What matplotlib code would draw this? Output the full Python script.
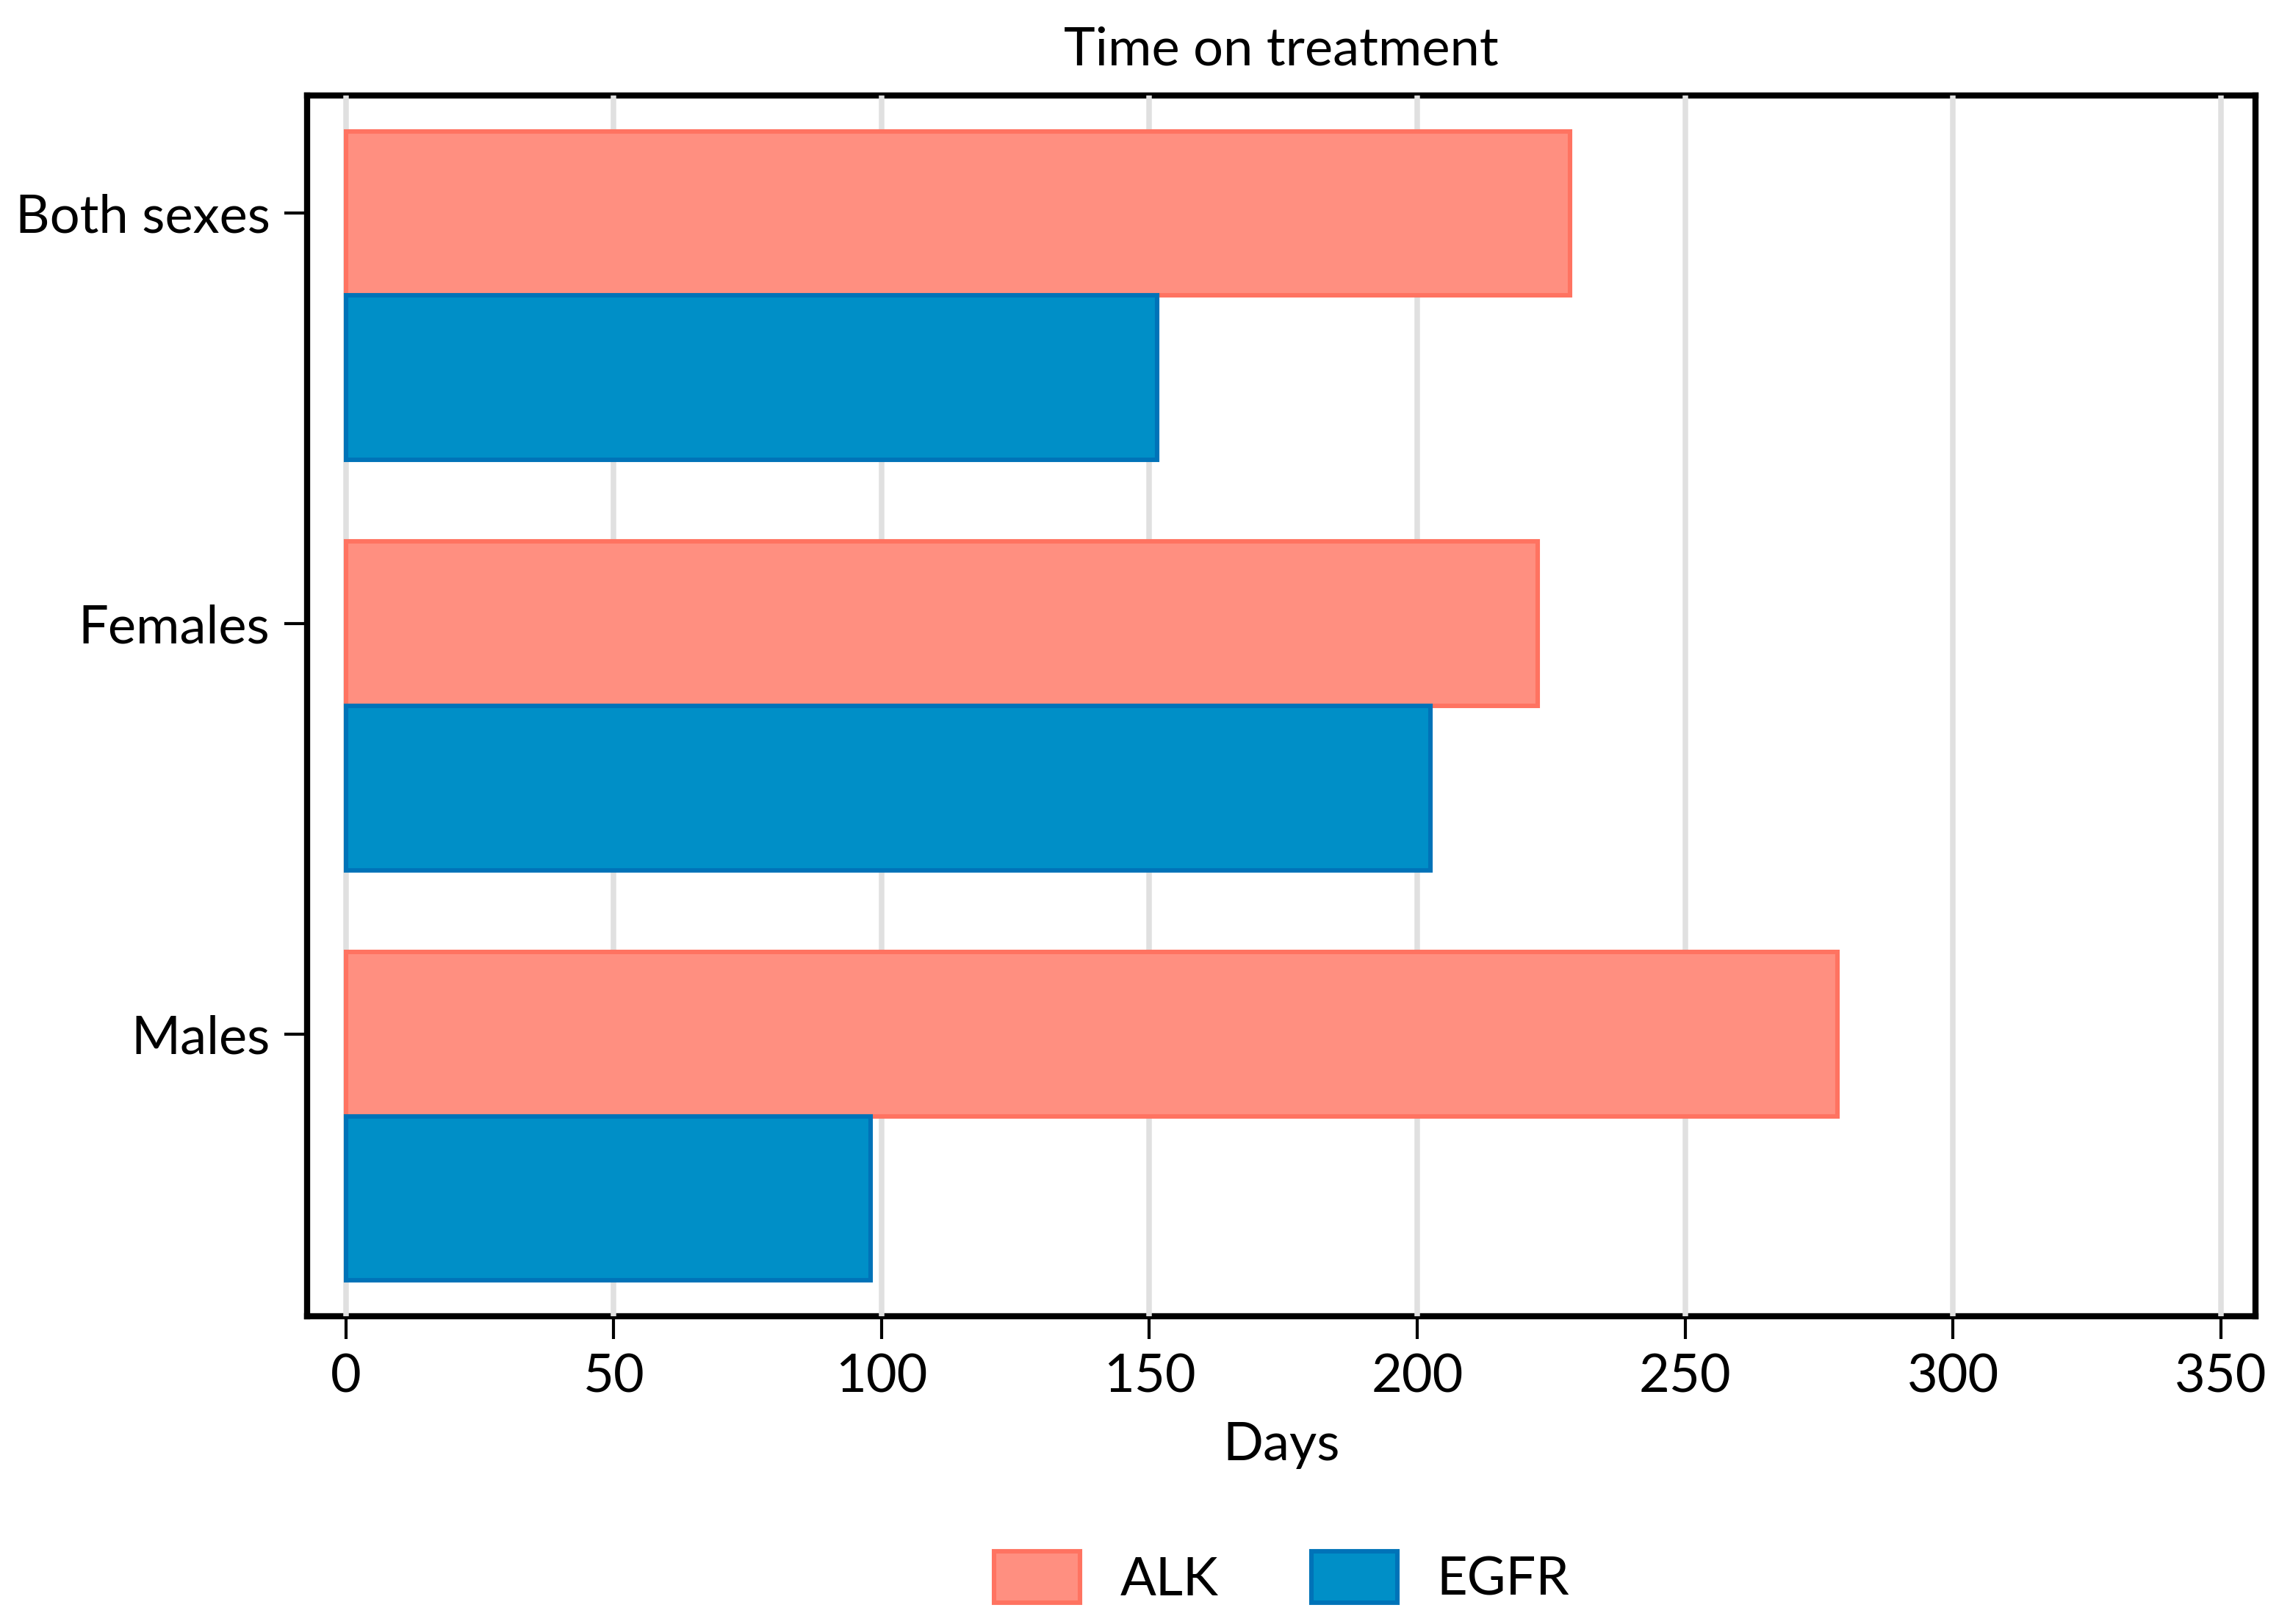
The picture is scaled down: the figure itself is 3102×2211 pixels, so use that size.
import numpy as np
import matplotlib
matplotlib.use("Agg")
import matplotlib.pyplot as plt

plt.rcParams['font.family'] = ['Lato', 'DejaVu Sans']

# Data
groups = ['Both sexes', 'Females', 'Males']
series = ['ALK', 'EGFR']
alk_days = [228.5, 222.5, 278.5]
egfr_days = [151.5, 202.5, 98.0]
xticks = [0, 50, 100, 150, 200, 250, 300, 350]

# Styles
fill_colors = ['#FF8F80', '#008FC7']
edge_colors = ['#FF7361', '#0073B8']
bar_h = 0.4
fs = 26

fig = plt.figure(figsize=(15.51, 11.055), dpi=200)
ax = fig.add_axes([0.1346, 0.1895, 0.8551, 0.7517])

y = np.arange(len(groups))
ax.barh(y - bar_h / 2, alk_days, height=bar_h, color=fill_colors[0],
        edgecolor=edge_colors[0], linewidth=2.2, label=series[0], zorder=1)
ax.barh(y + bar_h / 2, egfr_days, height=bar_h, color=fill_colors[1],
        edgecolor=edge_colors[1], linewidth=2.2, label=series[1], zorder=1)

ax.set_xlim(-7.3, 356.5)
ax.set_ylim(len(groups) - 1 + 0.487, -0.487)
ax.set_xticks(xticks)
ax.set_xticklabels([str(t) for t in xticks])
# tick marks sit at the centre of the ALK bars
ax.set_yticks(y - bar_h / 2)
ax.set_yticklabels(groups)

ax.set_axisbelow(True)
ax.grid(axis='x', color='#E0E0E0', linewidth=2.7)
ax.grid(axis='y', visible=False)
for sp in ax.spines.values():
    sp.set_linewidth(3)
    sp.set_color('black')
    sp.set_zorder(0.1)

ax.tick_params(axis='both', direction='out', length=11, width=1.5,
               labelsize=fs, pad=7, color='black')

ax.set_xlabel('Days', fontsize=fs, labelpad=10)
ax.set_title('Time on treatment', fontsize=fs, pad=15)

fig.legend(loc='lower center', bbox_to_anchor=(0.5625, -0.017), ncol=2,
           frameon=False, fontsize=fs, handlelength=1.62, handleheight=1.13,
           handletextpad=0.75, columnspacing=1.75)

fig.savefig('out.png', dpi=200)
